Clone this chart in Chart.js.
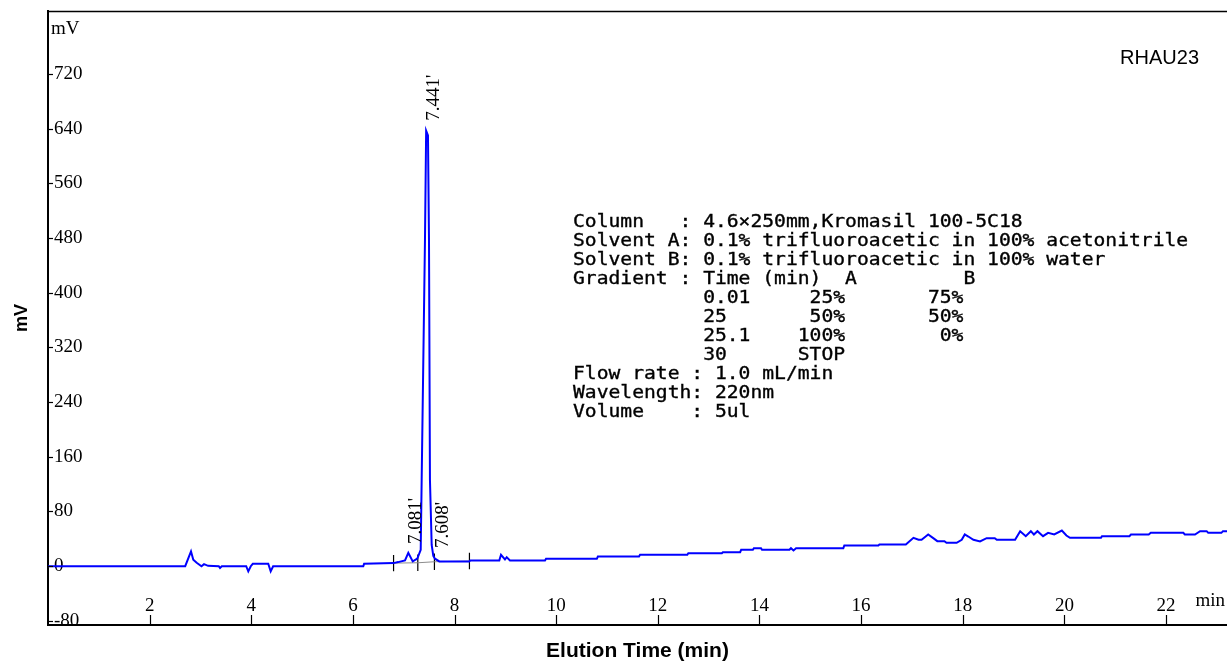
<!DOCTYPE html>
<html>
<head>
<meta charset="utf-8">
<script src="https://cdn.jsdelivr.net/npm/chart.js@4/dist/chart.umd.min.js"></script>
<style>html,body{margin:0;padding:0;background:#fff;}canvas{display:block;}</style>
</head>
<body>
<canvas id="c" width="1227" height="664"></canvas>
<script>
// ---- data ----
const timeMin = [0, 2.70, 2.814, 2.859, 2.926, 3.02, 3.07, 3.15, 3.36, 3.385, 3.42, 3.90, 3.941, 3.99, 4.03, 4.334, 4.382, 4.43,
  6.204, 6.22, 6.80, 6.89, 7.025, 7.09, 7.177, 7.267, 7.334, 7.353, 7.418, 7.441, 7.477, 7.497, 7.516, 7.550, 7.582, 7.615, 7.70,
  8.29, 8.31, 8.88, 8.914, 8.992, 9.026, 9.09, 9.78, 9.80, 10.80, 10.82, 11.63, 11.65, 12.58, 12.60, 13.26, 13.28, 13.62, 13.64,
  13.87, 13.89, 14.03, 14.05, 14.59, 14.62, 14.67, 14.72, 15.65, 15.67, 16.34, 16.36, 16.88, 17.03, 17.13, 17.19, 17.32, 17.42,
  17.50, 17.64, 17.68, 17.88, 17.98, 18.04, 18.11, 18.21, 18.34, 18.47, 18.63, 18.67, 19.03, 19.13, 19.24, 19.34, 19.40, 19.47,
  19.58, 19.68, 19.80, 19.95, 20.04, 20.11, 20.72, 20.74, 21.28, 21.31, 21.66, 21.70, 22.34, 22.37, 22.57, 22.67, 22.80, 22.83,
  23.09, 23.12, 23.2];
const signalMv = [0, 0, 21.5, 9.4, 5, 0, 3, 0.5, 0, -2.5, 0, 0, -7.5, 0, 3.5, 3.5, -7.5, 0,
  0, 3.5, 4.5, 6, 8.5, 19.5, 7, 11, 24, 126, 477, 637, 630, 477, 126, 31, 15, 11, 7,
  7, 8.3, 8.3, 16.7, 9.8, 13.2, 8.3, 8.3, 10.8, 10.8, 14.2, 14.2, 16.7, 16.7, 19, 19, 20.5, 20.5, 24,
  24, 26.3, 26.3, 24, 24, 26.3, 23, 26.3, 26.3, 30.3, 30.3, 31.7, 31.7, 41.5, 38.6, 38.6, 46.4, 41,
  36.6, 36.6, 34.2, 34.2, 38.6, 46.4, 43.4, 38.6, 36.1, 41, 41, 38.6, 38.6, 51.2, 43.9, 51.2, 46.4, 51.2,
  43.9, 48.8, 46.4, 52.2, 44.9, 41.5, 41.5, 43.9, 43.9, 46.4, 46.4, 48.8, 48.8, 46.4, 46.4, 51.2, 51.2, 48.8,
  48.8, 51.2, 51.2];

const xTicks = [2, 4, 6, 8, 10, 12, 14, 16, 18, 20, 22];
const yTicks = [-80, 0, 80, 160, 240, 320, 400, 480, 560, 640, 720];

const peakTimes = [7.081, 7.441, 7.608];
const peakLabels = ["7.081'", "7.441'", "7.608'"];

const eventTimes = [6.80, 7.277, 7.604, 8.293];
const eventLevels = [4.5, 5, 6.5, 7.5];

const sampleName = 'RHAU23';
const infoLines = [
  'Column   : 4.6×250mm,Kromasil 100-5C18',
  'Solvent A: 0.1% trifluoroacetic in 100% acetonitrile',
  'Solvent B: 0.1% trifluoroacetic in 100% water',
  'Gradient : Time (min)  A         B',
  '           0.01     25%       75%',
  '           25       50%       50%',
  '           25.1    100%        0%',
  '           30      STOP',
  'Flow rate : 1.0 mL/min',
  'Wavelength: 220nm',
  'Volume    : 5ul'
];

// ---- helpers ----
function valueAt(t) {
  for (let i = 1; i < timeMin.length; i++) {
    if (timeMin[i] >= t) {
      const f = (t - timeMin[i - 1]) / (timeMin[i] - timeMin[i - 1]);
      return signalMv[i - 1] + f * (signalMv[i] - signalMv[i - 1]);
    }
  }
  return signalMv[signalMv.length - 1];
}
const signalPts = timeMin.map((t, i) => ({x: t, y: signalMv[i]}));
const basePts = eventTimes.map((t, i) => ({x: t, y: eventLevels[i]}));
const markerPts = [];
eventTimes.forEach((t, i) => { markerPts.push({x: t, y: eventLevels[i] - 12}, {x: t, y: eventLevels[i] + 12}, {x: t, y: null}); });

const SERIF = "'Liberation Serif', 'Times New Roman', serif";
const SANS = "'Liberation Sans', Arial, sans-serif";

const decor = {
  id: 'decor',
  afterDraw(chart) {
    const {ctx, chartArea: a, scales: {x, y}} = chart;
    ctx.save();
    ctx.strokeStyle = '#000';
    ctx.fillStyle = '#000';
    // top frame line
    ctx.lineWidth = 1.5;
    ctx.beginPath(); ctx.moveTo(a.left, a.top + 0.5); ctx.lineTo(a.right, a.top + 0.5); ctx.stroke();
    // inward tick marks
    ctx.lineWidth = 1.2;
    yTicks.forEach(v => { const py = Math.round(y.getPixelForValue(v)) + 0.5; ctx.beginPath(); ctx.moveTo(a.left, py); ctx.lineTo(a.left + 5, py); ctx.stroke(); });
    xTicks.forEach(v => { const px = Math.round(x.getPixelForValue(v)) + 0.5; ctx.beginPath(); ctx.moveTo(px, a.bottom); ctx.lineTo(px, a.bottom - 10); ctx.stroke(); });
    // unit labels
    ctx.font = '19px ' + SERIF;
    ctx.textBaseline = 'alphabetic';
    ctx.textAlign = 'left';
    ctx.fillText('mV', a.left + 3, a.top + 23);
    ctx.textAlign = 'right';
    ctx.fillText('min', a.right - 2, a.bottom - 19);
    // sample name
    ctx.font = '20px ' + SANS;
    ctx.fillText(sampleName, 1199, 64);
    // peak labels
    ctx.font = '19px ' + SERIF;
    ctx.textAlign = 'left';
    peakTimes.forEach((t, i) => {
      const px = x.getPixelForValue(t) + 13;
      const py = y.getPixelForValue(valueAt(t)) - 10;
      ctx.save(); ctx.translate(px, py); ctx.rotate(-Math.PI / 2); ctx.fillText(peakLabels[i], 0, 0); ctx.restore();
    });
    // method info block
    ctx.font = "17.5px 'DejaVu Sans Mono', monospace";
    const pitch = 11.83;
    const sx = pitch / ctx.measureText('M').width;
    ctx.lineWidth = 0.35;
    infoLines.forEach((line, i) => {
      ctx.save();
      ctx.translate(573, 226.7 + 19 * i);
      ctx.scale(sx, 1);
      ctx.fillText(line, 0, 0);
      ctx.strokeText(line, 0, 0);
      ctx.restore();
    });
    ctx.restore();
  }
};

new Chart(document.getElementById('c'), {
  type: 'line',
  data: {
    datasets: [
      {data: signalPts, borderColor: '#0000ff', borderWidth: 2, pointRadius: 0, tension: 0, fill: false},
      {data: basePts, borderColor: '#8c8c8c', borderWidth: 1, pointRadius: 0, tension: 0, fill: false},
      {data: markerPts, borderColor: '#000', borderWidth: 1.2, pointRadius: 0, spanGaps: false, fill: false}
    ]
  },
  options: {
    responsive: false,
    animation: false,
    events: [],
    devicePixelRatio: 1,
    layout: {padding: {top: 11, right: 0, left: 0, bottom: 0}},
    plugins: {legend: {display: false}, tooltip: {enabled: false}},
    scales: {
      x: {
        type: 'linear', position: 'bottom', min: 0, max: 23.2,
        afterBuildTicks: s => { s.ticks = xTicks.map(v => ({value: v})); },
        afterFit: s => { s.height = 39; s.paddingLeft = 0; s.paddingRight = 0; },
        grid: {display: false, drawTicks: false},
        border: {display: true, color: '#000', width: 2},
        ticks: {mirror: true, padding: 8, color: '#000', autoSkip: false, maxRotation: 0, font: {family: SERIF, size: 19}},
        title: {display: true, text: 'Elution Time (min)', color: '#000', font: {family: SANS, size: 21, weight: 'bold'}, padding: {top: 0, bottom: 0}}
      },
      y: {
        type: 'linear', position: 'left', min: -86, max: 812,
        afterBuildTicks: s => { s.ticks = yTicks.map(v => ({value: v})); },
        afterFit: s => { s.width = 48; s.paddingTop = 0; s.paddingBottom = 0; },
        grid: {display: false, drawTicks: false},
        border: {display: true, color: '#000', width: 2},
        ticks: {mirror: true, padding: 6, color: '#000', autoSkip: false, font: {family: SERIF, size: 19}},
        title: {display: true, text: 'mV', color: '#000', font: {family: SANS, size: 18, weight: 'bold'}, padding: {top: 11, bottom: 0}}
      }
    }
  },
  plugins: [decor]
});
</script>
</body>
</html>
